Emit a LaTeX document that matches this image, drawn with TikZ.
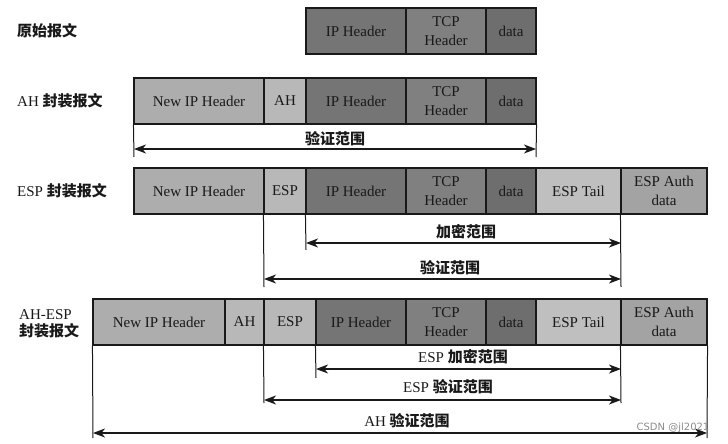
\documentclass[tikz,border=0pt]{standalone}
\usepackage{fontspec}
\setmainfont{Liberation Serif}
\newfontfamily\cjk{Noto Sans CJK SC}
\newfontfamily\wmfont{DejaVu Sans}
\usetikzlibrary{arrows.meta}
\definecolor{cNew}{gray}{0.68}
\definecolor{cAH}{gray}{0.72}
\definecolor{cESP}{gray}{0.72}
\definecolor{cIP}{gray}{0.46}
\definecolor{cTCP}{gray}{0.50}
\definecolor{cData}{gray}{0.43}
\definecolor{cTail}{gray}{0.75}
\definecolor{cAuth}{gray}{0.64}
\definecolor{ink}{gray}{0.1}
\newcommand{\zh}[1]{{\cjk\bfseries #1}}
\tikzset{
  pkt/.style={draw=ink, line width=1.1pt, minimum height=46pt, inner sep=0pt,
    align=center, text=ink, font=\fontsize{15}{19}\selectfont},
  rowlbl/.style={anchor=west, inner sep=0pt, align=left, text=ink,
    font=\fontsize{15}{18}\selectfont},
  rng/.style={inner sep=0pt, text=ink, font=\fontsize{15}{18}\selectfont},
  tick/.style={draw=ink, line width=1pt},
  span/.style={draw=ink, line width=1.2pt,
    {Stealth[length=12pt,width=9pt,inset=3.5pt]}-{Stealth[length=12pt,width=9pt,inset=3.5pt]}},
}
\begin{document}
\begin{tikzpicture}[x=1pt,y=-1pt]
\useasboundingbox (0,0) rectangle (728,444);

% ---------- Row 1 ----------
\node[rowlbl] (l1) at (17,31) {\zh{原始报文}};
\node[pkt, fill=cIP,   minimum width=100pt] (r1ip)   at (356,31) {IP Header};
\node[pkt, fill=cTCP,  minimum width=80pt]  (r1tcp)  at (446,31) {TCP\\Header};
\node[pkt, fill=cData, minimum width=50pt]  (r1data) at (511,31) {data};

% ---------- Row 2 ----------
\node[rowlbl] (l2) at (17,101) {AH \zh{封装报文}};
\node[pkt, fill=cNew,  minimum width=130pt] (r2new)  at (199,101) {New IP Header};
\node[pkt, fill=cAH,   minimum width=42pt]  (r2ah)   at (285,101) {AH};
\node[pkt, fill=cIP,   minimum width=100pt] (r2ip)   at (356,101) {IP Header};
\node[pkt, fill=cTCP,  minimum width=80pt]  (r2tcp)  at (446,101) {TCP\\Header};
\node[pkt, fill=cData, minimum width=50pt]  (r2data) at (511,101) {data};

\coordinate (v2a) at (134,157);
\coordinate (v2b) at (536,157);
\draw[tick] (r2new.south west) -- (v2a);
\draw[tick] (r2data.south east) -- (v2b);
\coordinate (a2L) at (134,149);
\coordinate (a2R) at (536,149);
\draw[span] (a2L) -- (a2R);
\node[rng] (t2) at (335,139) {\zh{验证范围}};

% ---------- Row 3 ----------
\node[rowlbl] (l3) at (17,191) {ESP \zh{封装报文}};
\node[pkt, fill=cNew,  minimum width=130pt] (r3new)  at (199,191) {New IP Header};
\node[pkt, fill=cESP,  minimum width=42pt]  (r3esp)  at (285,191) {ESP};
\node[pkt, fill=cIP,   minimum width=100pt] (r3ip)   at (356,191) {IP Header};
\node[pkt, fill=cTCP,  minimum width=80pt]  (r3tcp)  at (446,191) {TCP\\Header};
\node[pkt, fill=cData, minimum width=50pt]  (r3data) at (511,191) {data};
\node[pkt, fill=cTail, minimum width=85pt]  (r3tail) at (578.5,191) {ESP Tail};
\node[pkt, fill=cAuth, minimum width=86pt]  (r3auth) at (664,191) {ESP Auth\\data};

\coordinate (v3a) at (264,287);
\coordinate (v3b) at (306,250);
\coordinate (v3c) at (621,287);
\draw[tick] (r3esp.south west) -- (v3a);
\draw[tick] (r3ip.south west) -- (v3b);
\draw[tick] (r3auth.south west) -- (v3c);
\coordinate (a3aL) at (306,243);
\coordinate (a3aR) at (621,243);
\draw[span] (a3aL) -- (a3aR);
\node[rng] (t3a) at (466,232) {\zh{加密范围}};
\coordinate (a3bL) at (264,279);
\coordinate (a3bR) at (621,279);
\draw[span] (a3bL) -- (a3bR);
\node[rng] (t3b) at (450,268) {\zh{验证范围}};

% ---------- Row 4 ----------
\node[rowlbl] (l4) at (19,324) {AH-ESP\\[-1pt]\zh{封装报文}};
\node[pkt, fill=cNew,  minimum width=132pt] (r4new)  at (159,322) {New IP Header};
\node[pkt, fill=cAH,   minimum width=39pt]  (r4ah)   at (244.5,322) {AH};
\node[pkt, fill=cESP,  minimum width=52pt]  (r4esp)  at (290,322) {ESP};
\node[pkt, fill=cIP,   minimum width=90pt]  (r4ip)   at (361,322) {IP Header};
\node[pkt, fill=cTCP,  minimum width=80pt]  (r4tcp)  at (446,322) {TCP\\Header};
\node[pkt, fill=cData, minimum width=50pt]  (r4data) at (511,322) {data};
\node[pkt, fill=cTail, minimum width=85pt]  (r4tail) at (578.5,322) {ESP Tail};
\node[pkt, fill=cAuth, minimum width=86pt]  (r4auth) at (664,322) {ESP Auth\\data};

\coordinate (v4a) at (93,438);
\coordinate (v4b) at (264,403);
\coordinate (v4c) at (316,378);
\coordinate (v4d) at (621,403);
\coordinate (v4e) at (707,438);
\draw[tick] (r4new.south west) -- (v4a);
\draw[tick] (r4esp.south west) -- (v4b);
\draw[tick] (r4ip.south west) -- (v4c);
\draw[tick] (r4auth.south west) -- (v4d);
\draw[tick] (r4auth.south east) -- (v4e);

\coordinate (a4aL) at (316,369);
\coordinate (a4aR) at (621,369);
\draw[span] (a4aL) -- (a4aR);
\node[rng] (t4a) at (463,357) {ESP \zh{加密范围}};
\coordinate (a4bL) at (264,400);
\coordinate (a4bR) at (621,400);
\draw[span] (a4bL) -- (a4bR);
\node[rng] (t4b) at (448,387) {ESP \zh{验证范围}};
\coordinate (a4cL) at (93,433);
\coordinate (a4cR) at (707,433);
\draw[span] (a4cL) -- (a4cR);
\node[rng] (t4c) at (407,421) {AH \zh{验证范围}};

% watermark
\node[inner sep=0pt, text=black!45, font=\wmfont\fontsize{10}{12}\selectfont] (wm) at (673,428) {CSDN @jl2021};
\end{tikzpicture}
\end{document}
